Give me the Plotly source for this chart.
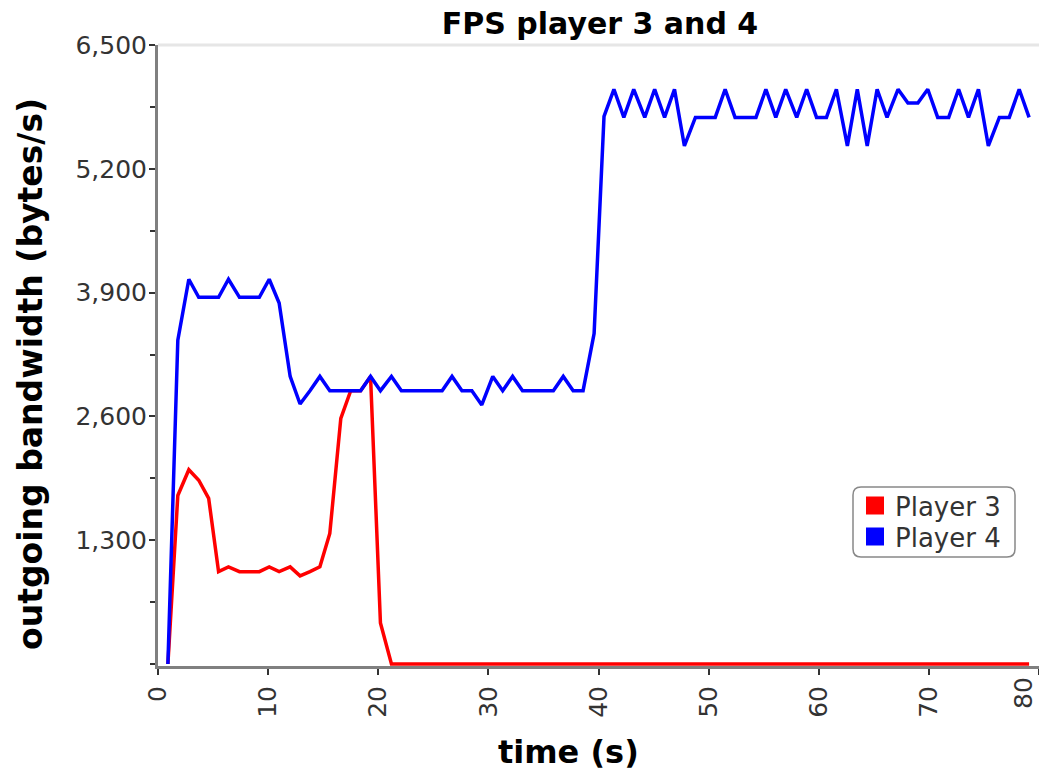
import plotly.graph_objects as go

time_s = [0.9, 1.8, 2.8, 3.7, 4.6, 5.5, 6.4, 7.4, 8.3, 9.2,
          10.1, 11.0, 12.0, 12.9, 13.8, 14.7, 15.6, 16.6, 17.5, 18.4,
          19.3, 20.2, 21.2, 22.1, 23.0, 23.9, 24.8, 25.8, 26.7, 27.6,
          28.5, 29.4, 30.4, 31.3, 32.2, 33.1, 34.0, 35.0, 35.9, 36.8,
          37.7, 38.6, 39.6, 40.5, 41.4, 42.3, 43.2, 44.2, 45.1, 46.0,
          46.9, 47.8, 48.8, 49.7, 50.6, 51.5, 52.4, 53.4, 54.3, 55.2,
          56.1, 57.0, 58.0, 58.9, 59.8, 60.7, 61.6, 62.6, 63.5, 64.4,
          65.3, 66.2, 67.2, 68.1, 69.0, 69.9, 70.8, 71.8, 72.7, 73.6,
          74.5, 75.4, 76.4, 77.3, 78.2, 79.1]

player3 = [0, 1770, 2040, 1930, 1740, 970, 1020, 970, 970, 970,
           1020, 970, 1020, 925, 970, 1020, 1370, 2580, 2870, 2870,
           3020, 430, 0, 0, 0, 0, 0, 0, 0, 0,
           0, 0, 0, 0, 0, 0, 0, 0, 0, 0,
           0, 0, 0, 0, 0, 0, 0, 0, 0, 0,
           0, 0, 0, 0, 0, 0, 0, 0, 0, 0,
           0, 0, 0, 0, 0, 0, 0, 0, 0, 0,
           0, 0, 0, 0, 0, 0, 0, 0, 0, 0,
           0, 0, 0, 0, 0, 0]

player4 = [0, 3400, 4040, 3850, 3850, 3850, 4040, 3850, 3850, 3850,
           4040, 3790, 3020, 2730, 2870, 3020, 2870, 2870, 2870, 2870,
           3020, 2870, 3020, 2870, 2870, 2870, 2870, 2870, 3020, 2870,
           2870, 2720, 3020, 2870, 3020, 2870, 2870, 2870, 2870, 3020,
           2870, 2870, 3470, 5750, 6035, 5740, 6035, 5740, 6035, 5740,
           6035, 5440, 5740, 5740, 5740, 6035, 5740, 5740, 5740, 6035,
           5740, 6035, 5740, 6035, 5740, 5740, 6035, 5440, 6035, 5440,
           6035, 5740, 6035, 5890, 5890, 6035, 5740, 5740, 6035, 5740,
           6035, 5440, 5740, 5740, 6035, 5740]

series_names = ["Player 3", "Player 4"]
series_colors = ["#ff0000", "#0000ff"]

x_ticks = [0, 10, 20, 30, 40, 50, 60, 70, 80]
y_ticks = [1300, 2600, 3900, 5200, 6500]

FONT = "DejaVu Sans"
TICK_SIZE = 25

W, H = 1039, 771
L, T = 158, 45
PLOT_RIGHT = 1039
PLOT_BOTTOM = 666
R, B = W - PLOT_RIGHT, H - PLOT_BOTTOM
pw, ph = W - L - R, H - T - B

def px_to_paper(x, y):
    return (x - L) / pw, 1 - (y - T) / ph

fig = go.Figure()
for name, ys, col in zip(series_names, [player3, player4], series_colors):
    fig.add_trace(go.Scatter(x=time_s, y=ys, mode="lines", name=name,
                             line=dict(color=col, width=3.5), showlegend=False,
                             hoverinfo="x+y+name"))
for i, (name, col) in enumerate(zip(series_names, series_colors)):
    fig.add_trace(go.Scatter(x=[None], y=[None], mode="markers", name=name,
                             legend="legend" if i == 0 else "legend2",
                             marker=dict(symbol="square", size=16, color=col,
                                         line=dict(color=col, width=2))))

# rounded legend frame
bx0, by0, bx1, by1, rad = 853, 487, 1015, 557, 8
rx, ry = rad / pw, rad / ph
X0, Y1 = px_to_paper(bx0, by0)
X1, Y0 = px_to_paper(bx1, by1)
path = (f"M {X0+rx},{Y1} L {X1-rx},{Y1} Q {X1},{Y1} {X1},{Y1-ry} "
        f"L {X1},{Y0+ry} Q {X1},{Y0} {X1-rx},{Y0} L {X0+rx},{Y0} "
        f"Q {X0},{Y0} {X0},{Y0+ry} L {X0},{Y1-ry} Q {X0},{Y1} {X0+rx},{Y1} Z")

ytx, yty = px_to_paper(30, 374)
xtx, xty = px_to_paper(568, 752)
lgx, lgy1 = px_to_paper(855, 482)
_, lgy2 = px_to_paper(855, 513)
last_lab_x, last_lab_y = px_to_paper(1023, 676)

legend_style = dict(xanchor="left", yanchor="top", bgcolor="rgba(0,0,0,0)", borderwidth=0,
                    font=dict(family=FONT, size=26, color="#333333"))

# the last x tick sits on the window edge: its label is drawn just inside it
x_ticktext = [str(v) for v in x_ticks[:-1]] + [""]

fig.update_layout(
    width=W, height=H,
    margin=dict(l=L, r=R, t=T, b=B, autoexpand=False),
    paper_bgcolor="white", plot_bgcolor="white",
    font=dict(family=FONT, color="#333333"),
    title=dict(text="<b>FPS player 3 and 4</b>", x=600 / W, xanchor="center",
               y=1 - 23 / H, yanchor="middle", yref="container", automargin=False,
               font=dict(family=FONT, size=30, color="black")),
    showlegend=True,
    legend=dict(x=lgx, y=lgy1, **legend_style),
    legend2=dict(x=lgx, y=lgy2, **legend_style),
    shapes=[
        dict(type="line", xref="paper", yref="paper", x0=0, x1=1,
             y0=px_to_paper(0, 45)[1], y1=px_to_paper(0, 45)[1],
             line=dict(color="#e6e6e6", width=3), layer="below"),
        dict(type="path", xref="paper", yref="paper", path=path,
             line=dict(color="#888888", width=1.5), fillcolor="white", layer="above"),
    ],
    annotations=[
        dict(text="<b>outgoing bandwidth (bytes/s)</b>", xref="paper", yref="paper",
             x=ytx, y=yty, xanchor="center", yanchor="middle", textangle=-90,
             showarrow=False, font=dict(family=FONT, size=33, color="black")),
        dict(text="<b>time (s)</b>", xref="paper", yref="paper",
             x=xtx, y=xty, xanchor="center", yanchor="middle",
             showarrow=False, font=dict(family=FONT, size=32, color="black")),
        dict(text=str(x_ticks[-1]), xref="paper", yref="paper",
             x=last_lab_x, y=last_lab_y, xanchor="center", yanchor="top", textangle=-90,
             showarrow=False, borderpad=0,
             font=dict(family=FONT, size=TICK_SIZE, color="#333333")),
    ],
)

fig.update_xaxes(
    range=[0, 80], tickmode="array", tickvals=x_ticks, ticktext=x_ticktext,
    ticks="outside", ticklen=6, tickwidth=2, tickcolor="#333333",
    showline=True, linecolor="#808080", linewidth=3, layer="below traces",
    tickangle=-90, tickfont=dict(family=FONT, size=TICK_SIZE, color="#333333"),
    ticklabelstandoff=1,
    showgrid=False, zeroline=False, automargin=False,
)
fig.update_yaxes(
    range=[-21, 6500], tickmode="array", tickvals=y_ticks,
    ticktext=[f"{v:,}" for v in y_ticks],
    ticks="outside", ticklen=6, tickwidth=2, tickcolor="#333333",
    minor=dict(dtick=650, tick0=0, ticks="outside", ticklen=5, tickwidth=2,
               tickcolor="#333333", showgrid=False),
    showline=True, linecolor="#808080", linewidth=3, layer="below traces",
    tickfont=dict(family=FONT, size=TICK_SIZE, color="#333333"),
    ticklabelstandoff=-3,
    showgrid=False, zeroline=False, automargin=False,
)

# remove the browser's default 8px page margin so the 1039x771 figure fills the window
fig.write_html("out.html",
               config={"displayModeBar": False},
               post_script="document.body.style.margin='0px';"
                           "document.body.style.overflow='hidden';")
